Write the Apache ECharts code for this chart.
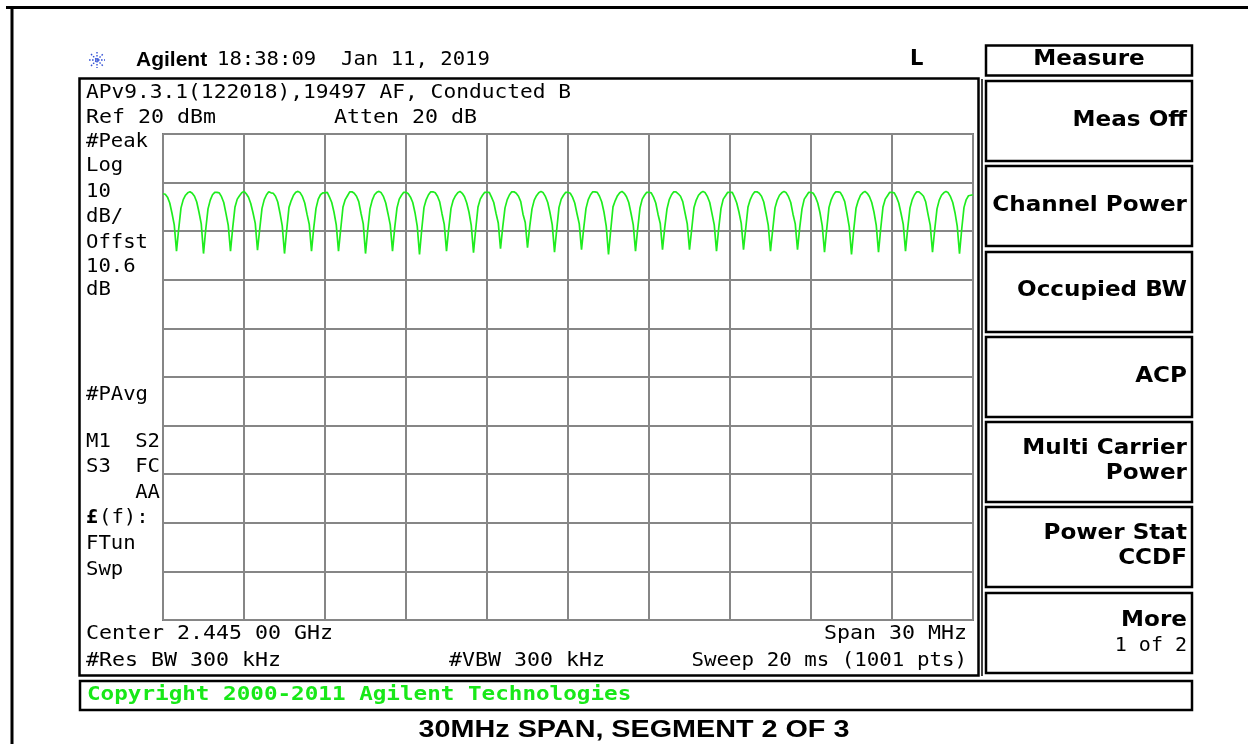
<!DOCTYPE html>
<html>
<head>
<meta charset="utf-8">
<script src="https://cdn.jsdelivr.net/npm/echarts@6/dist/echarts.min.js"></script>
<style>
html,body{margin:0;padding:0;background:#fff;}
#chart{width:1248px;height:744px;}
</style>
</head>
<body>
<div id="chart"></div>
<script>
// ---- data ----
var startMHz = 2430;          // Center 2.445 GHz, Span 30 MHz
var stopMHz = 2460;
var stepMHz = 1 / 12;         // trace sample spacing used here
var refLevel = 20;            // Ref 20 dBm
var bottomLevel = -80;        // 10 dB/div, 10 divisions
// trace levels in dBm, one row per MHz (12 samples each), then final point
var traceDbm = [
  7.7, 7.6, 7.0, 5.8, 3.7, 1.3, -4.1, 0.6, 4.8, 6.5, 7.4, 7.9,
  8.1, 7.8, 7.2, 6.0, 3.9, 1.5, -4.6, 0.4, 4.6, 6.4, 7.5, 8.0,
  8.0, 7.9, 7.1, 5.9, 3.6, 1.2, -4.1, 0.8, 5.0, 6.6, 7.3, 7.9,
  8.2, 7.7, 7.0, 5.7, 3.8, 1.6, -3.9, 0.5, 4.7, 6.5, 7.5, 8.1,
  7.9, 7.8, 7.2, 6.0, 3.7, 1.1, -4.6, 0.4, 4.9, 6.3, 7.4, 8.0,
  8.2, 7.9, 7.1, 5.8, 3.5, 1.4, -4.1, 0.7, 4.7, 6.6, 7.5, 7.9,
  7.9, 8.0, 7.0, 5.9, 3.9, 1.3, -4.1, 0.5, 5.0, 6.5, 7.3, 8.1,
  8.1, 7.8, 7.2, 6.1, 3.7, 1.5, -4.6, 0.3, 4.6, 6.4, 7.5, 8.0,
  8.2, 7.9, 7.1, 5.8, 3.6, 1.3, -4.1, 0.8, 4.8, 6.6, 7.4, 8.0,
  8.0, 7.7, 7.0, 5.9, 3.8, 1.0, -4.8, 0.4, 4.9, 6.5, 7.5, 8.1,
  8.1, 7.9, 7.2, 6.0, 3.6, 1.4, -4.1, 0.6, 4.7, 6.4, 7.3, 7.9,
  8.2, 7.8, 7.1, 5.8, 3.9, 1.2, -4.4, 0.5, 5.0, 6.6, 7.4, 8.0,
  8.0, 8.0, 7.0, 5.9, 3.7, 1.7, -3.6, 0.9, 4.8, 6.5, 7.5, 8.1,
  8.1, 7.8, 7.2, 6.1, 3.5, 1.8, -3.4, 1.0, 4.6, 6.4, 7.3, 7.9,
  8.2, 7.9, 7.1, 5.9, 3.8, 1.3, -4.3, 0.4, 4.9, 6.6, 7.4, 8.0,
  8.0, 7.8, 7.0, 5.8, 3.6, 1.5, -3.8, 0.7, 4.7, 6.5, 7.5, 8.1,
  8.1, 8.0, 7.2, 6.0, 3.9, 1.0, -4.8, 0.3, 5.0, 6.3, 7.3, 7.9,
  8.2, 7.8, 7.1, 5.9, 3.7, 1.3, -4.1, 0.6, 4.8, 6.6, 7.4, 8.0,
  8.0, 7.9, 7.0, 5.8, 3.5, 1.6, -3.8, 0.8, 4.6, 6.5, 7.5, 8.1,
  8.1, 7.7, 7.2, 6.1, 3.8, 1.5, -3.8, 0.5, 4.9, 6.4, 7.4, 7.9,
  8.2, 7.9, 7.1, 5.9, 3.6, 1.3, -4.1, 0.7, 4.7, 6.6, 7.3, 8.0,
  8.0, 8.0, 7.0, 5.8, 3.9, 1.6, -3.8, 0.6, 5.0, 6.5, 7.5, 8.1,
  8.1, 7.8, 7.2, 6.0, 3.7, 1.2, -4.1, 0.4, 4.8, 6.4, 7.4, 7.9,
  8.2, 7.9, 7.1, 5.9, 3.5, 1.5, -3.8, 0.8, 4.6, 6.6, 7.3, 8.0,
  8.0, 7.8, 7.0, 5.8, 3.8, 1.1, -4.3, 0.5, 4.9, 6.5, 7.5, 8.1,
  8.1, 8.0, 7.2, 6.1, 3.6, 0.9, -4.8, 0.3, 4.7, 6.3, 7.4, 7.9,
  8.2, 7.8, 7.1, 5.9, 3.9, 1.2, -4.3, 0.6, 5.0, 6.6, 7.3, 8.0,
  8.0, 7.9, 7.0, 5.8, 3.7, 1.4, -4.1, 0.7, 4.8, 6.5, 7.5, 8.1,
  8.1, 7.7, 7.2, 6.0, 3.5, 1.2, -4.3, 0.4, 4.6, 6.4, 7.4, 7.9,
  8.2, 7.9, 7.1, 5.9, 3.8, 1.0, -4.6, 0.5, 4.9, 6.5, 7.3, 7.4,
  7.5
];
// annotation texts
var headerTexts = ["Agilent", "18:38:09  Jan 11, 2019", "L"];
var infoTexts = ["APv9.3.1(122018),19497 AF, Conducted B", "Ref 20 dBm", "Atten 20 dB"];
var leftLabels = ["#Peak", "Log", "10", "dB/", "Offst", "10.6", "dB"];
var lowerLeftLabels = ["#PAvg", "FTun", "Swp"];
var bottomTexts = ["Center 2.445 00 GHz", "Span 30 MHz", "#Res BW 300 kHz", "#VBW 300 kHz", "Sweep 20 ms (1001 pts)"];
var menuTitle = "Measure";
var menuKeys = [["Meas Off"], ["Channel Power"], ["Occupied BW"], ["ACP"], ["Multi Carrier", "Power"], ["Power Stat", "CCDF"], ["More", "1 of 2"]];
var copyrightText = "Copyright 2000-2011 Agilent Technologies";
var captionText = "30MHz SPAN, SEGMENT 2 OF 3";

// ---- drawing ----
var MONO = "'DejaVu Sans Mono', monospace";
var SANSB = "bold 21px 'DejaVu Sans', sans-serif";
var g = [];
function T(x, y, text, font, opt) {
  opt = opt || {};
  g.push({
    type: 'text', x: x, y: y, scaleX: opt.sx || 1, z: 10, silent: true,
    style: {
      text: text, font: font, fill: opt.color || '#000',
      textAlign: opt.align || 'left', textVerticalAlign: 'middle',
      align: opt.align || 'left', verticalAlign: 'middle'
    }
  });
}
function R(x, y, w, h, lw) {
  g.push({type: 'rect', z: 5, silent: true, shape: {x: x, y: y, width: w, height: h},
    style: {fill: 'none', stroke: '#000', lineWidth: lw || 2.5}});
}
function L(x1, y1, x2, y2, lw, color, dash) {
  g.push({type: 'line', z: 5, silent: true, shape: {x1: x1, y1: y1, x2: x2, y2: y2},
    style: {stroke: color || '#000', lineWidth: lw || 2, lineDash: dash || null}});
}

// page border
L(6, 7.5, 1248, 7.5, 3);
L(12, 7, 12, 744, 3);
// instrument screen frame
R(79.5, 78.5, 899, 597, 2.5);
L(982, 79, 982, 676, 1.5);
// menu
R(986, 45.5, 206, 30, 2.5);
var keyTops = [81, 166, 252, 337, 422, 507, 593];
for (var i = 0; i < keyTops.length; i++) R(986, keyTops[i], 206, 80, 2.5);
// copyright box
R(80, 681, 1112, 29, 2.5);

// Agilent spark logo
var cx = 97, cy = 60;
[[ -8, 0, 8, 0], [0, -8, 0, 8], [-6, -6, 6, 6], [-6, 6, 6, -6]].forEach(function (s) {
  L(cx + s[0], cy + s[1], cx + s[2], cy + s[3], 1.4, '#3553d6', [1.6, 1.4]);
});

var M20 = "20px " + MONO;
T(136, 60, headerTexts[0], "bold 21px 'Liberation Sans', Arial, sans-serif");
T(217, 60, headerTexts[1], M20, {sx: 1.03});
T(910, 60, headerTexts[2], "bold 21px 'DejaVu Sans', sans-serif");

T(86, 93, infoTexts[0], M20, {sx: 1.06});
T(86, 118, infoTexts[1], M20, {sx: 1.08});
T(334, 118, infoTexts[2], M20, {sx: 1.08});

var leftY = [142, 166, 192, 217, 243, 267, 290];
leftLabels.forEach(function (s, k) { T(86, leftY[k], s, M20, {sx: 1.03}); });
T(86, 395, lowerLeftLabels[0], M20, {sx: 1.03});
T(86, 442, "M1", M20, {sx: 1.03});
T(160, 442, "S2", M20, {sx: 1.03, align: 'right'});
T(86, 467, "S3", M20, {sx: 1.03});
T(160, 467, "FC", M20, {sx: 1.03, align: 'right'});
T(160, 493, "AA", M20, {sx: 1.03, align: 'right'});
T(86, 518, "£", "bold 20px " + MONO);
T(99, 518, "(f):", M20, {sx: 1.03});
T(86, 544, lowerLeftLabels[1], M20, {sx: 1.03});
T(86, 570, lowerLeftLabels[2], M20, {sx: 1.03});

T(86, 634, bottomTexts[0], M20, {sx: 1.08});
T(967, 634, bottomTexts[1], M20, {sx: 1.08, align: 'right'});
T(86, 661, bottomTexts[2], M20, {sx: 1.08});
T(449, 661, bottomTexts[3], M20, {sx: 1.08});
T(967, 661, bottomTexts[4], M20, {sx: 1.04, align: 'right'});

T(1089, 60, menuTitle, SANSB, {sx: 1.1, align: 'center'});
var keyY = [[121], [206], [291], [377], [449, 474], [534, 559], [621, 646]];
menuKeys.forEach(function (lines, k) {
  lines.forEach(function (s, j) {
    var font = (k === 6 && j === 1) ? M20 : SANSB;
    T(1187, keyY[k][j], s, font, {sx: (k === 6 && j === 1) ? 1.0 : 1.1, align: 'right'});
  });
});

T(87, 695, copyrightText, "bold 20px " + MONO, {sx: 1.13, color: '#18e818'});
T(634, 731, captionText, "bold 23px 'Liberation Sans', Arial, sans-serif", {sx: 1.25, align: 'center'});

var chart = echarts.init(document.getElementById('chart'), null, {renderer: 'canvas'});
var points = traceDbm.map(function (v, k) { return [startMHz + k * stepMHz, v]; });
var gridLine = {show: true, lineStyle: {color: '#868686', width: 2}};
chart.setOption({
  animation: false,
  backgroundColor: '#ffffff',
  grid: {left: 163, top: 134, width: 810, height: 486, show: true, borderColor: '#777777', borderWidth: 2, backgroundColor: 'transparent'},
  xAxis: {type: 'value', min: startMHz, max: stopMHz, interval: 3,
    axisLabel: {show: false}, axisTick: {show: false}, axisLine: {show: false}, splitLine: gridLine},
  yAxis: {type: 'value', min: bottomLevel, max: refLevel, interval: 10,
    axisLabel: {show: false}, axisTick: {show: false}, axisLine: {show: false}, splitLine: gridLine},
  series: [{
    type: 'line', data: points, showSymbol: false, silent: true, clip: true,
    lineStyle: {color: '#1fec1f', width: 1.7}
  }],
  graphic: g
});
</script>
</body>
</html>
